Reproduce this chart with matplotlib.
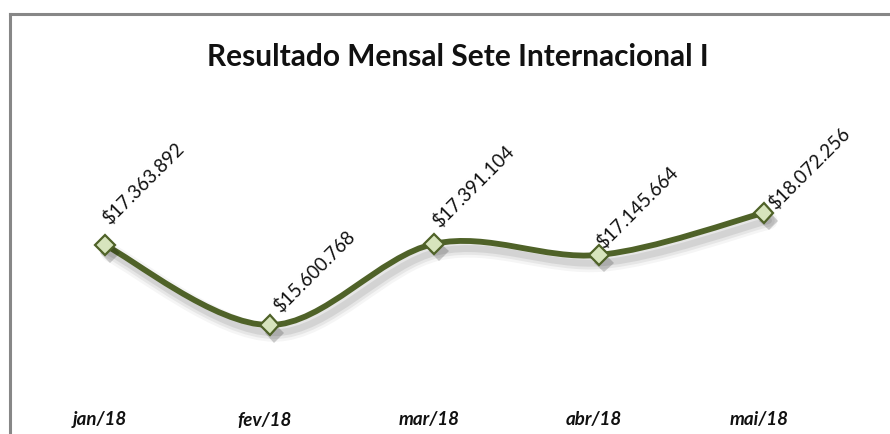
import matplotlib
matplotlib.use('Agg')
import matplotlib.pyplot as plt
import matplotlib.patheffects as pe
from matplotlib.path import Path
from matplotlib.patches import PathPatch
from matplotlib.lines import Line2D
import numpy as np

plt.rcParams['font.family'] = ['Lato', 'DejaVu Sans']

# dados
meses = ['jan/18', 'fev/18', 'mar/18', 'abr/18', 'mai/18']
valores = [17363892, 15600768, 17391104, 17145664, 18072256]
rotulos = ['$17.363.892', '$15.600.768', '$17.391.104', '$17.145.664', '$18.072.256']

# deslocamento dos rótulos (pixels)
desloc = [(5, 19), (11, 11), (5, 15), (5, 5), (12, 2)]

cor_linha = '#4F6228'
cor_marca = '#D7E4BD'


def curva_suave(x, y):
    # curva tipo Excel (bezier com tangentes de Catmull-Rom)
    pts = np.column_stack([x, y]).astype(float)
    n = len(pts)
    verts = [pts[0]]
    codes = [Path.MOVETO]
    for i in range(n - 1):
        p0 = pts[i - 1] if i > 0 else pts[i]
        p1 = pts[i]
        p2 = pts[i + 1]
        p3 = pts[i + 2] if i + 2 < n else pts[i + 1]
        c1 = p1 + (p2 - p0) / 6
        c2 = p2 - (p3 - p1) / 6
        verts += [c1, c2, p2]
        codes += [Path.CURVE4] * 3
    return Path(verts, codes)


def main():
    W, H = 890, 434
    fig = plt.figure(figsize=(W / 100, H / 100), dpi=100)

    left, right, top, bottom = 22.6, 846, 90, 390
    ax = fig.add_axes([left / W, 1 - bottom / H, (right - left) / W, (bottom - top) / H])
    ax.set_xlim(-0.5, 4.5)
    ax.set_ylim(14.17e6, 20.78e6)
    ax.axis('off')

    x = np.arange(len(meses))
    sombra = (3.5, -5.5)
    path = curva_suave(x, valores)
    patch = PathPatch(path, facecolor='none', edgecolor=cor_linha, lw=4.2,
                      transform=ax.transData, zorder=2, capstyle='round')
    patch.set_path_effects([
        pe.SimpleLineShadow(offset=sombra, shadow_color='k', alpha=0.04, linewidth=13),
        pe.SimpleLineShadow(offset=sombra, shadow_color='k', alpha=0.06, linewidth=9),
        pe.SimpleLineShadow(offset=sombra, shadow_color='k', alpha=0.08, linewidth=5),
        pe.Normal(),
    ])
    ax.add_patch(patch)

    ax.plot(x, valores, linestyle='none', marker='D', markersize=10,
            markerfacecolor=cor_marca, markeredgecolor=cor_linha, markeredgewidth=1.6,
            zorder=3,
            path_effects=[pe.SimplePatchShadow(offset=sombra, shadow_rgbFace='k', alpha=0.18),
                          pe.Normal()])

    for xi, v, r, (dx, dy) in zip(x, valores, rotulos, desloc):
        ax.annotate(r, (xi, v), xytext=(dx, dy), textcoords='offset pixels',
                    rotation=45, rotation_mode='anchor', ha='left', va='baseline',
                    fontsize=13.5, color='#111111', zorder=4)

    for xi, m in zip(x, meses):
        ax.text(xi - 0.03, 14.17e6 - (420 - 390) * (6.61e6 / 300), m,
                ha='center', va='center', fontsize=13.5, fontweight='bold',
                fontstyle='italic', color='#111111', clip_on=False)

    fig.text(458 / W, 1 - 57 / H, 'Resultado Mensal Sete Internacional I',
             ha='center', va='center', fontsize=21.5, fontweight='bold', color='#111111')

    # borda cinza
    fig.add_artist(Line2D([9.5 / W, 1], [1 - 14 / H, 1 - 14 / H], color='#878787', lw=2.2))
    fig.add_artist(Line2D([9.5 / W, 9.5 / W], [0, 1 - 14 / H], color='#878787', lw=2.2))

    fig.savefig('out.png', dpi=100)


if __name__ == '__main__':
    main()
